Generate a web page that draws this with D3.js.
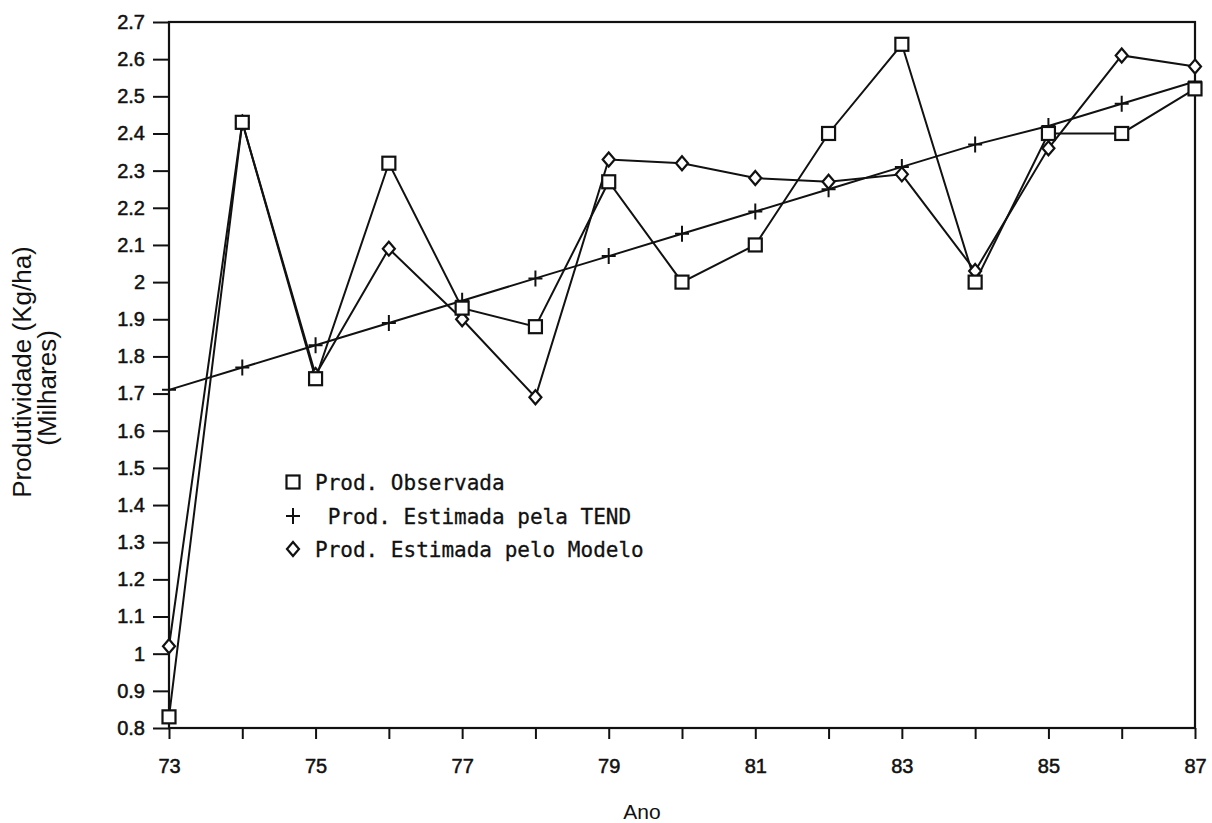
<!DOCTYPE html>
<html>
<head>
<meta charset="utf-8">
<script src="https://cdn.jsdelivr.net/npm/d3@7"></script>
<style>
  body { margin: 0; background: #fff; }
  svg { display: block; }
</style>
</head>
<body>
<svg id="chart" width="1212" height="823"></svg>
<script>
// years on the x axis
var years = [73, 74, 75, 76, 77, 78, 79, 80, 81, 82, 83, 84, 85, 86, 87];
// produtividade observada
var observada = [0.83, 2.43, 1.74, 2.32, 1.93, 1.88, 2.27, 2.00, 2.10, 2.40, 2.64, 2.00, 2.40, 2.40, 2.52];
// estimada pela tendencia
var tendencia = [1.71, 1.77, 1.83, 1.89, 1.95, 2.01, 2.07, 2.13, 2.19, 2.25, 2.31, 2.37, 2.42, 2.48, 2.54];
// estimada pelo modelo
var modelo = [1.02, 2.43, 1.75, 2.09, 1.90, 1.69, 2.33, 2.32, 2.28, 2.27, 2.29, 2.03, 2.36, 2.61, 2.58];
var yTicks = [0.8, 0.9, 1, 1.1, 1.2, 1.3, 1.4, 1.5, 1.6, 1.7, 1.8, 1.9, 2, 2.1, 2.2, 2.3, 2.4, 2.5, 2.6, 2.7];
var xLabels = [73, 75, 77, 79, 81, 83, 85, 87];
var legendNames = ["Prod. Observada", " Prod. Estimada pela TEND", "Prod. Estimada pelo Modelo"];

var LEFT = 169, RIGHT = 1195, TOP = 22, BOTTOM = 728;
var SANS = "Liberation Sans, Arial, sans-serif";

var svg = d3.select("#chart");
var x = d3.scaleLinear().domain([73, 87]).range([LEFT, RIGHT]);
var y = d3.scaleLinear().domain([0.8, 2.7]).range([BOTTOM, TOP]);

// y axis
svg.append("g")
    .attr("transform", "translate(" + LEFT + ",0)")
    .call(d3.axisLeft(y).tickValues(yTicks).tickSize(16).tickPadding(8)
        .tickFormat(function(d) { return d3.format("")(+d.toFixed(1)); }));

// x axis, tick every year, label every other
svg.append("g")
    .attr("transform", "translate(0," + BOTTOM + ")")
    .call(d3.axisBottom(x).tickValues(years).tickSize(11).tickPadding(20)
        .tickFormat(function(d) { return xLabels.indexOf(d) >= 0 ? d : ""; }));

svg.selectAll(".domain").remove();
svg.selectAll(".tick line").attr("stroke", "#111").attr("stroke-width", 2);
svg.selectAll(".tick text")
    .attr("font-family", SANS)
    .attr("font-size", 20)
    .attr("fill", "#111")
    .attr("stroke", "#111")
    .attr("stroke-width", 0.5);

// frame
svg.append("rect")
    .attr("x", LEFT).attr("y", TOP)
    .attr("width", RIGHT - LEFT).attr("height", BOTTOM - TOP)
    .attr("fill", "none").attr("stroke", "#111").attr("stroke-width", 2.2);

// titles
svg.append("text")
    .attr("transform", "translate(31,372) rotate(-90)")
    .attr("text-anchor", "middle")
    .attr("font-family", SANS)
    .attr("font-size", 26)
    .attr("fill", "#111")
    .text("Produtividade (Kg/ha)");
svg.append("text")
    .attr("transform", "translate(56,388) rotate(-90)")
    .attr("text-anchor", "middle")
    .attr("font-family", SANS)
    .attr("font-size", 26)
    .attr("fill", "#111")
    .text("(Milhares)");
svg.append("text")
    .attr("x", 642).attr("y", 819)
    .attr("text-anchor", "middle")
    .attr("font-family", SANS)
    .attr("font-size", 21)
    .attr("fill", "#111")
    .text("Ano");

var line = d3.line()
    .x(function(d, i) { return x(years[i]); })
    .y(function(d) { return y(d); });

function squareMark(g) {
    g.append("rect").attr("x", -6.5).attr("y", -6.5).attr("width", 13).attr("height", 13)
        .attr("fill", "#fff").attr("stroke", "#111").attr("stroke-width", 2.2);
}
function plusMark(g) {
    g.append("path").attr("d", "M-7,0H7M0,-8V8")
        .attr("stroke", "#111").attr("stroke-width", 2).attr("fill", "none");
}
function diamondMark(g) {
    g.append("path").attr("d", "M0,-7L6,0L0,7L-6,0Z")
        .attr("fill", "#fff").attr("stroke", "#111").attr("stroke-width", 2.2);
}

var series = [
    {values: tendencia, mark: plusMark},
    {values: modelo, mark: diamondMark},
    {values: observada, mark: squareMark}
];

series.forEach(function(s) {
    svg.append("path")
        .datum(s.values)
        .attr("d", line)
        .attr("fill", "none")
        .attr("stroke", "#111")
        .attr("stroke-width", 2);
});
series.forEach(function(s) {
    svg.selectAll(null)
        .data(s.values)
        .enter()
        .append("g")
        .attr("transform", function(d, i) { return "translate(" + x(years[i]) + "," + y(d) + ")"; })
        .each(function() { s.mark(d3.select(this)); });
});

// legend
var legendMarks = [squareMark, plusMark, diamondMark];
var legendY = [482, 516, 549];
legendNames.forEach(function(name, i) {
    var g = svg.append("g").attr("transform", "translate(293," + legendY[i] + ")");
    legendMarks[i](g);
    g.append("text")
        .attr("x", 22).attr("y", 8)
        .attr("font-family", "DejaVu Sans Mono, monospace")
        .attr("font-size", 21)
        .attr("fill", "#111")
        .attr("stroke", "#111")
        .attr("stroke-width", 0.3)
        .style("white-space", "pre")
        .text(name);
});
</script>
</body>
</html>
